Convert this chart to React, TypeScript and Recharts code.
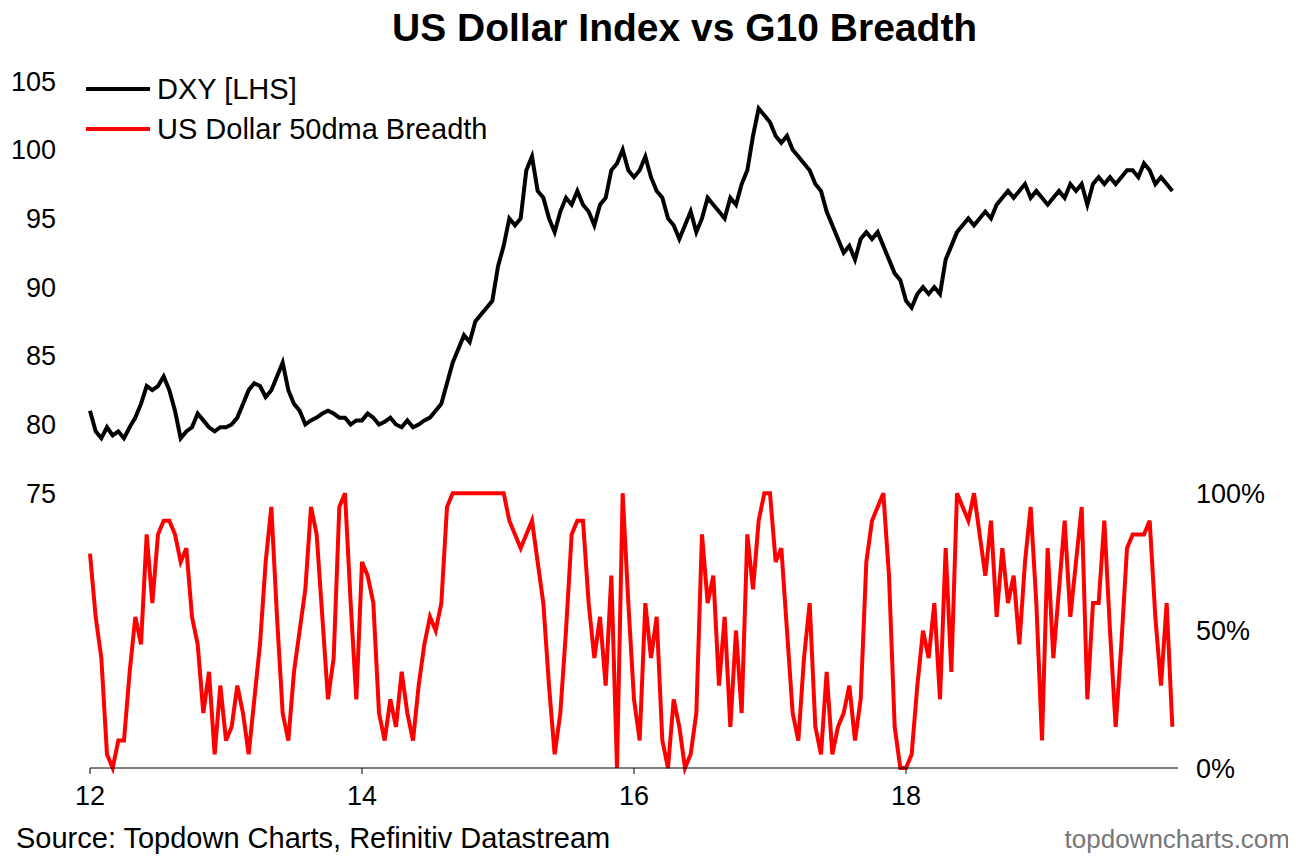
import React from "react";
import { LineChart, Line, XAxis, YAxis } from "recharts";

// half-monthly samples, Jan 2012 .. Dec 2019
const dxy = [
  81, 79.5, 79.0, 79.8, 79.2, 79.5, 79.0, 79.8, 80.5, 81.5, 82.8, 82.5, 82.8, 83.5, 82.5, 81.0, 79.0, 79.5, 79.8, 80.8, 80.3, 79.8, 79.5, 79.8,
  79.8, 80.0, 80.5, 81.5, 82.5, 83.0, 82.8, 82.0, 82.5, 83.5, 84.5, 82.5, 81.5, 81.0, 80.0, 80.3, 80.5, 80.8, 81.0, 80.8, 80.5, 80.5, 80.0, 80.3,
  80.3, 80.8, 80.5, 80.0, 80.2, 80.5, 80.0, 79.8, 80.3, 79.8, 80.0, 80.3, 80.5, 81.0, 81.5, 83.0, 84.5, 85.5, 86.5, 86.0, 87.5, 88.0, 88.5, 89.0,
  91.5, 93.0, 95.0, 94.5, 95.0, 98.5, 99.5, 97.0, 96.5, 95.0, 94.0, 95.5, 96.5, 96.0, 97.0, 96.0, 95.5, 94.5, 96.0, 96.5, 98.5, 99.0, 100.0, 98.5,
  98.0, 98.5, 99.5, 98.0, 97.0, 96.5, 95.0, 94.5, 93.5, 94.5, 95.5, 94.0, 95.0, 96.5, 96.0, 95.5, 95.0, 96.5, 96.0, 97.5, 98.5, 101.0, 103.0, 102.5,
  102.0, 101.0, 100.5, 101.0, 100.0, 99.5, 99.0, 98.5, 97.5, 97.0, 95.5, 94.5, 93.5, 92.5, 93.0, 92.0, 93.5, 94.0, 93.5, 94.0, 93.0, 92.0, 91.0, 90.5,
  89.0, 88.5, 89.5, 90.0, 89.5, 90.0, 89.5, 92.0, 93.0, 94.0, 94.5, 95.0, 94.5, 95.0, 95.5, 95.0, 96.0, 96.5, 97.0, 96.5, 97.0, 97.5, 96.5, 97.0,
  96.5, 96.0, 96.5, 97.0, 96.5, 97.5, 97.0, 97.5, 96.0, 97.5, 98.0, 97.5, 98.0, 97.5, 98.0, 98.5, 98.5, 98.0, 99.0, 98.5, 97.5, 98.0, 97.5, 97.0,
];

const breadth = [
  78, 55, 40, 5, 0, 10, 10, 35, 55, 45, 85, 60, 85, 90, 90, 85, 75, 80, 55, 45, 20, 35, 5, 30,
  10, 15, 30, 20, 5, 25, 45, 75, 95, 55, 20, 10, 35, 50, 65, 95, 85, 55, 25, 40, 95, 100, 60, 25,
  75, 70, 60, 20, 10, 25, 15, 35, 20, 10, 30, 45, 55, 50, 60, 95, 100, 100, 100, 100, 100, 100, 100, 100,
  100, 100, 90, 85, 80, 85, 90, 75, 60, 30, 5, 20, 50, 85, 90, 90, 60, 40, 55, 30, 70, 0, 100, 60,
  25, 10, 60, 40, 55, 10, 0, 25, 15, 0, 5, 20, 85, 60, 70, 30, 55, 15, 50, 20, 85, 65, 90, 100,
  100, 75, 80, 50, 20, 10, 40, 60, 15, 5, 35, 5, 15, 20, 30, 10, 25, 75, 90, 95, 100, 70, 15, 0,
  0, 5, 30, 50, 40, 60, 25, 80, 35, 100, 95, 90, 100, 85, 70, 90, 55, 80, 60, 70, 45, 75, 95, 60,
  10, 80, 40, 65, 90, 55, 75, 95, 25, 60, 60, 90, 50, 15, 45, 80, 85, 85, 85, 90, 55, 30, 60, 15,
];

const xTicks = [12, 14, 16, 18];
const leftTicks = [75, 80, 85, 90, 95, 100, 105];
const rightTicks = [0, 50, 100];

const data = dxy.map((v, i) => ({ t: 12 + i / 24, dxy: v, breadth: breadth[i] }));

const font = "'Liberation Sans', Arial, sans-serif";
const tickStyle = { fill: "#000", fontSize: 27, fontFamily: font };

export default function App() {
  return (
    <div style={{ position: "relative", width: 1280, height: 848, fontFamily: font, background: "#fff" }}>
      <div style={{ position: "absolute", top: -2, left: 0, width: 1380, textAlign: "center", fontSize: 39, fontWeight: "bold" }}>
        <span style={{ position: "absolute", left: 384, top: 0 }}>US Dollar Index vs G10 Breadth</span>
      </div>
      <LineChart width={1280} height={848} data={data} margin={{ top: 73, right: 30, bottom: 58, left: 0 }}>
        <XAxis dataKey="t" type="number" domain={[12, 20]} ticks={xTicks} tick={tickStyle}
          axisLine={{ stroke: "#000" }} tickLine={{ stroke: "#000" }} height={30} tickMargin={12} />
        <YAxis yAxisId="l" domain={[55, 105]} ticks={leftTicks} tick={tickStyle} axisLine={false} tickLine={false} width={82} tickMargin={28} />
        <YAxis yAxisId="r" orientation="right" domain={[0, 250]} ticks={rightTicks} tickFormatter={(v) => v + "%"}
          tick={tickStyle} axisLine={false} tickLine={false} width={80} tickMargin={12} />
        <Line yAxisId="r" dataKey="breadth" stroke="#ff0000" strokeWidth={4} dot={false} isAnimationActive={false} />
        <Line yAxisId="l" dataKey="dxy" stroke="#000" strokeWidth={4} dot={false} isAnimationActive={false} />
      </LineChart>
      <div style={{ position: "absolute", left: 78, top: 61, fontSize: 29 }}>
        <div style={{ display: "flex", alignItems: "center", height: 40 }}>
          <span style={{ width: 64, height: 4, background: "#000", marginRight: 7 }} />DXY [LHS]
        </div>
        <div style={{ display: "flex", alignItems: "center", height: 40 }}>
          <span style={{ width: 64, height: 4, background: "#ff0000", marginRight: 7 }} />US Dollar 50dma Breadth
        </div>
      </div>
      <div style={{ position: "absolute", left: 8, top: 814, fontSize: 29 }}>Source: Topdown Charts, Refinitiv Datastream</div>
      <div style={{ position: "absolute", right: -2, top: 816, fontSize: 26, color: "#777" }}>topdowncharts.com</div>
    </div>
  );
}
